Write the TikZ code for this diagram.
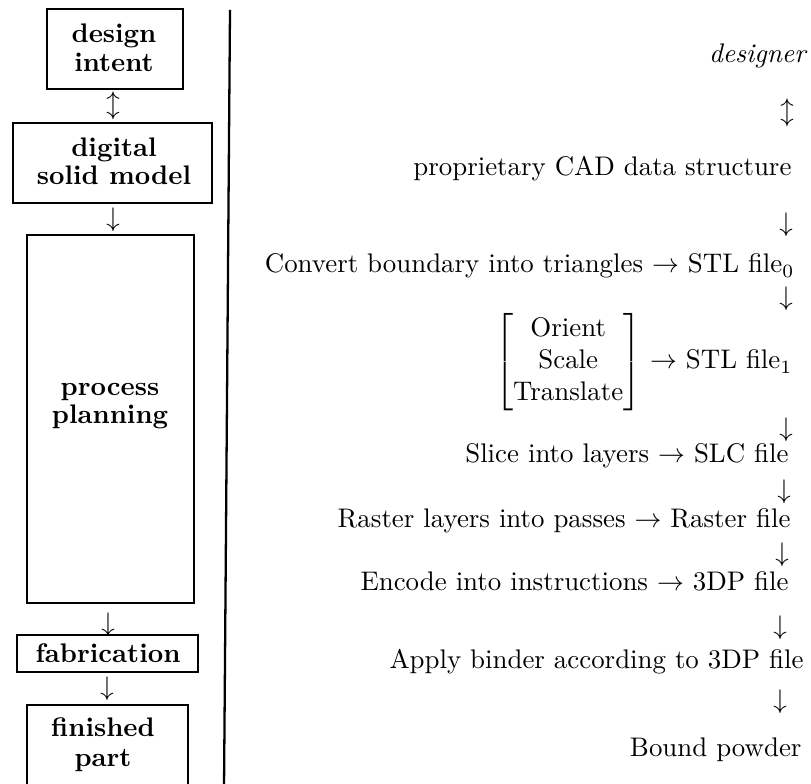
\documentclass[tikz,border=0pt]{standalone}
\usepackage{amsmath}
\usetikzlibrary{fit}
\begin{document}
\begin{tikzpicture}[x=0.372pt,y=-0.372pt,
  stagebox/.style={draw, line width=0.85pt, inner sep=0pt},
  stagetext/.style={font=\bfseries, anchor=base, inner sep=0pt},
  steptext/.style={anchor=base east, inner sep=0pt},
  glyph/.style={anchor=center, inner sep=0pt}]
\path[use as bounding box, clip] (0,0) rectangle (811,784);

% ---- left column: stages of the process ----
\node[stagebox, fit={(47,9) (183,89)}]   (intentbox) {};
\node[stagetext] (intent1) at (114,43) {design};
\node[stagetext] (intent2) at (114,72) {intent};

\node[glyph] (a0) at (113,106) {$\updownarrow$};

\node[stagebox, fit={(13,123) (212,203)}] (modelbox) {};
\node[stagetext] (model1) at (114,157) {digital};
\node[stagetext] (model2) at (114,185) {solid model};

\node[glyph] (a1) at (113,220) {$\downarrow$};

\node[stagebox, fit={(27,235) (194,603)}] (planbox) {};
\node[stagetext] (plan1) at (110,396) {process};
\node[stagetext] (plan2) at (110,424) {planning};

\node[glyph] (a2) at (108,625) {$\downarrow$};

\node[stagebox, fit={(17,635) (198,672)}] (fabbox) {};
\node[stagetext] (fab) at (108,663) {fabrication};

\node[glyph] (a3) at (107,689) {$\downarrow$};

\node[stagebox, fit={(27,705) (188,820)}] (partbox) {};
\node[stagetext] (part1) at (103,737) {finished};
\node[stagetext] (part2) at (103,767) {part};

% ---- divider ----
\coordinate (divtop) at (230,10);
\coordinate (divbot) at (224,790);
\draw[line width=0.85pt] (divtop) -- (divbot);

% ---- right column: data flow ----
\node[steptext] (s0) at (808,63) {\textit{designer}};
\node[glyph] (b0) at (787,113) {$\updownarrow$};
\node[steptext] (s1) at (792,176) {proprietary CAD data structure};
\node[glyph] (b1) at (786,225) {$\downarrow$};
\node[steptext] (s2) at (795,273) {Convert boundary into triangles $\rightarrow$ STL file$_0$};
\node[glyph] (b2) at (786,299) {$\downarrow$};
\node[steptext] (s3) at (793,369)
  {$\begin{bmatrix}\text{Orient}\\ \text{Scale}\\ \text{Translate}\end{bmatrix}$ $\rightarrow$ STL file$_1$};
\node[glyph] (b3) at (786,430) {$\downarrow$};
\node[steptext] (s4) at (789,463) {Slice into layers $\rightarrow$ SLC file};
\node[glyph] (b4) at (784,492) {$\downarrow$};
\node[steptext] (s5) at (791,528) {Raster layers into passes $\rightarrow$ Raster file};
\node[glyph] (b5) at (782,555) {$\downarrow$};
\node[steptext] (s6) at (789,591) {Encode into instructions $\rightarrow$ 3DP file};
\node[glyph] (b6) at (780,628) {$\downarrow$};
\node[steptext] (s7) at (804,669) {Apply binder according to 3DP file};
\node[glyph] (b7) at (780,702) {$\downarrow$};
\node[steptext] (s8) at (802,757) {Bound powder};
\end{tikzpicture}
\end{document}
